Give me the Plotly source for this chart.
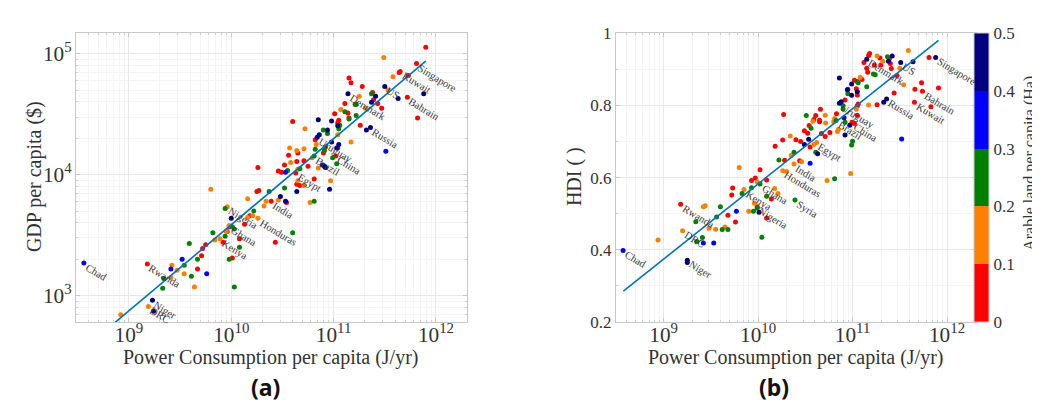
import numpy as np
import plotly.graph_objects as go

# ---------------- data ----------------
# Panel (a): log10 power consumption per capita (J/yr) vs log10 GDP per capita ($), by arable-land class
a_red_power = [11.90, 11.81, 11.65, 11.64, 11.73, 11.72, 11.82, 11.15, 11.17, 11.28,
               11.38, 11.39, 11.43, 11.47, 11.11, 11.21, 11.14, 11.01, 10.60, 11.05,
               11.04, 11.15, 11.26, 10.82, 10.92, 10.90, 11.04, 10.56, 10.65, 11.02,
               10.71, 10.52, 10.64, 10.26, 10.75, 10.46, 10.49, 10.63, 10.81, 10.64,
               10.67, 10.25, 10.27, 10.54, 10.39, 10.18, 10.13, 9.98, 9.96, 9.92,
               9.75, 9.72, 10.08, 10.43, 9.71, 10.01, 9.18, 9.67]
a_red_gdp = [5.055, 4.92, 4.855, 4.845, 4.82, 4.64, 4.47, 4.80, 4.76, 4.73,
             4.68, 4.62, 4.59, 4.55, 4.59, 4.58, 4.51, 4.505, 4.44, 4.45,
             4.43, 4.47, 4.41, 4.29, 4.23, 4.18, 4.22, 4.16, 4.18, 4.155,
             4.115, 4.08, 4.11, 4.06, 4.07, 4.03, 4.02, 4.015, 3.965, 3.92,
             3.91, 3.86, 3.87, 3.77, 3.78, 3.66, 3.59, 3.57, 3.53, 3.44,
             3.42, 3.39, 3.47, 3.44, 3.33, 3.31, 3.26, 3.22]

a_orange_power = [11.49, 11.58, 11.53, 11.25, 11.07, 11.31, 10.72, 11.04, 10.83, 11.17,
                  10.57, 10.64, 10.71, 10.79, 10.58, 10.65, 10.85, 10.65, 10.71, 10.97,
                  9.80, 10.16, 10.46, 10.77, 10.34, 10.32, 9.96, 10.21, 10.16, 10.26,
                  9.98, 9.95, 9.84, 9.89, 9.42, 9.47, 9.54, 9.41, 9.64, 9.19, 8.92]
a_orange_gdp = [4.97, 4.81, 4.70, 4.65, 4.54, 4.55, 4.38, 4.33, 4.25, 4.27,
                4.22, 4.20, 4.215, 4.14, 4.10, 4.045, 4.055, 3.95, 3.91, 3.95,
                3.88, 3.80, 3.79, 3.77, 3.78, 3.74, 3.735, 3.66, 3.645, 3.64,
                3.58, 3.53, 3.46, 3.47, 3.25, 3.21, 3.18, 3.15, 3.07, 2.91, 2.84]

a_green_power = [11.37, 11.22, 11.11, 11.22, 11.15, 11.06, 11.05, 10.90, 10.94, 10.82,
                 10.91, 10.81, 10.99, 11.03, 10.67, 10.55, 10.52, 10.37, 10.81, 9.94,
                 10.22, 10.01, 10.03, 9.82, 9.94, 10.60, 9.59, 10.08, 9.67, 9.98,
                 9.54, 9.61, 9.34, 10.03, 9.33]
a_green_gdp = [4.67, 4.58, 4.52, 4.49, 4.46, 4.41, 4.38, 4.37, 4.34, 4.21,
               4.20, 4.155, 4.14, 4.09, 4.05, 4.035, 3.89, 3.86, 3.78, 3.72,
               3.70, 3.57, 3.55, 3.52, 3.49, 3.52, 3.43, 3.40, 3.30, 3.30,
               3.25, 3.16, 3.14, 3.07, 3.06]

a_blue_power = [10.89, 11.51, 10.53, 9.52, 8.56, 9.41, 9.76]
a_blue_gdp = [4.08, 4.195, 4.02, 3.30, 3.27, 3.22, 3.18]

a_navy_power = [11.50, 11.88, 11.63, 11.14, 11.41, 11.37, 10.85, 10.98, 11.04, 10.94,
                10.86, 11.32, 11.36, 10.84, 10.98, 11.05, 11.03, 10.91, 10.92, 10.96,
                10.64, 10.48, 10.53, 10.00, 9.23, 9.24]
a_navy_gdp = [4.73, 4.67, 4.63, 4.67, 4.65, 4.60, 4.455, 4.445, 4.405, 4.37,
              4.33, 4.37, 4.39, 4.31, 4.27, 4.25, 4.22, 4.07, 4.06, 3.88,
              3.86, 3.82, 3.78, 3.64, 2.96, 2.87]

a_fit_power = [8.56, 11.90]
a_fit_gdp = [2.56, 4.94]

a_countries = ["Singapore", "Kuwait", "US", "Denmark", "Bahrain", "Russia", "Uruguay", "China",
               "Brazil", "Egypt", "India", "Nigeria", "Honduras", "Ghana", "Kenya", "Chad",
               "Rwanda", "Niger", "DRC"]
a_country_power = [11.81, 11.65, 11.50, 11.14, 11.72, 11.36, 10.84, 11.02,
                   10.81, 10.63, 10.39, 9.96, 10.26, 9.98, 9.89, 8.56,
                   9.18, 9.23, 9.19]
a_country_gdp = [4.92, 4.855, 4.73, 4.67, 4.64, 4.39, 4.31, 4.155,
                 4.155, 4.015, 3.78, 3.735, 3.64, 3.58, 3.47, 3.27,
                 3.26, 2.96, 2.91]

# Panel (b): log10 power consumption per capita (J/yr) vs HDI, by arable-land class
b_red_power = [11.18, 11.17, 11.12, 11.29, 11.39, 11.23, 11.30, 11.40, 11.81, 11.41,
               11.15, 11.16, 11.47, 11.10, 11.02, 11.73, 11.91, 11.66, 11.74, 10.95,
               11.04, 11.05, 11.44, 11.26, 11.655, 11.83, 10.92, 11.05, 11.06, 10.83,
               10.66, 10.27, 10.61, 10.59, 10.65, 10.65, 11.05, 10.995, 11.02, 10.49,
               10.54, 10.525, 10.67, 10.71, 10.76, 10.26, 10.40, 10.45, 10.55, 10.18,
               10.28, 10.44, 10.02, 9.97, 9.93, 10.09, 9.73, 9.72, 10.14, 9.99,
               9.18, 9.68, 10.09, 9.76]
b_red_hdi = [0.944, 0.938, 0.919, 0.931, 0.929, 0.912, 0.912, 0.916, 0.933, 0.902,
             0.903, 0.892, 0.883, 0.872, 0.870, 0.863, 0.848, 0.845, 0.839, 0.845,
             0.846, 0.829, 0.834, 0.802, 0.809, 0.796, 0.815, 0.799, 0.804, 0.777,
             0.789, 0.775, 0.772, 0.761, 0.759, 0.755, 0.773, 0.753, 0.750, 0.730,
             0.744, 0.723, 0.722, 0.714, 0.725, 0.704, 0.705, 0.700, 0.685, 0.687,
             0.648, 0.647, 0.622, 0.599, 0.592, 0.593, 0.571, 0.552, 0.541, 0.519,
             0.526, 0.496, 0.488, 0.477]

b_orange_power = [11.59, 11.26, 11.32, 11.50, 11.08, 11.54, 11.17, 11.04, 10.71, 10.58,
                  10.81, 10.80, 10.715, 10.84, 10.85, 10.34, 10.59, 10.62, 10.35, 10.46,
                  10.38, 10.26, 10.30, 9.80, 10.98, 10.73, 9.99, 10.175, 10.21, 9.85,
                  9.96, 9.90, 9.42, 9.44, 9.48, 9.55, 9.65, 9.20, 8.94]
b_orange_hdi = [0.952, 0.937, 0.922, 0.903, 0.878, 0.857, 0.801, 0.789, 0.773, 0.756,
                0.764, 0.755, 0.751, 0.728, 0.733, 0.715, 0.692, 0.697, 0.661, 0.644,
                0.638, 0.619, 0.617, 0.628, 0.611, 0.592, 0.588, 0.570, 0.556, 0.567,
                0.529, 0.507, 0.519, 0.522, 0.460, 0.457, 0.463, 0.453, 0.427]

b_green_power = [11.37, 11.22, 11.24, 11.05, 11.06, 11.15, 10.95, 10.90, 10.90, 10.51,
                 10.825, 10.92, 10.56, 11.00, 10.99, 10.61, 10.22, 10.38, 10.81, 10.02,
                 9.83, 9.93, 10.09, 10.39, 9.99, 9.95, 9.60, 9.56, 9.34, 9.62,
                 9.68, 9.41, 9.35, 10.04]
b_green_hdi = [0.935, 0.887, 0.885, 0.866, 0.863, 0.852, 0.832, 0.799, 0.790, 0.772,
               0.758, 0.753, 0.737, 0.701, 0.690, 0.670, 0.649, 0.670, 0.597, 0.582,
               0.556, 0.572, 0.548, 0.538, 0.515, 0.507, 0.519, 0.491, 0.478, 0.456,
               0.456, 0.434, 0.423, 0.435]

b_blue_power = [10.91, 11.52, 10.55, 9.77, 9.42, 9.53, 8.57]
b_blue_hdi = [0.766, 0.707, 0.640, 0.507, 0.419, 0.419, 0.398]

b_navy_power = [11.15, 11.42, 11.38, 11.51, 11.64, 11.88, 10.86, 10.99, 10.945, 11.05,
                10.99, 11.36, 11.33, 10.86, 10.88, 10.97, 10.92, 10.535, 10.49, 10.63,
                10.01, 9.25, 9.25]
b_navy_hdi = [0.928, 0.937, 0.922, 0.919, 0.921, 0.933, 0.876, 0.859, 0.843, 0.838,
              0.828, 0.818, 0.809, 0.806, 0.810, 0.745, 0.718, 0.706, 0.692, 0.666,
              0.504, 0.371, 0.365]

b_fit_power = [8.573, 11.91]
b_fit_hdi = [0.2855, 0.980]

b_countries = ["Singapore", "US", "Denmark", "Bahrain", "Russia", "Kuwait", "Uruguay", "China",
               "Brazil", "Egypt", "India", "Honduras", "Ghana", "Kenya", "Syria", "Nigeria",
               "Rwanda", "DRC", "Chad", "Niger"]
b_country_power = [11.88, 11.51, 11.15, 11.74, 11.36, 11.655, 10.86, 10.995,
                   10.825, 10.62, 10.38, 10.26, 10.02, 9.85, 10.39, 9.99,
                   9.18, 9.20, 8.57, 9.25]
b_country_hdi = [0.933, 0.919, 0.928, 0.839, 0.818, 0.809, 0.806, 0.753,
                 0.758, 0.697, 0.638, 0.619, 0.582, 0.567, 0.538, 0.519,
                 0.526, 0.453, 0.398, 0.371]

land_bins = [0.0, 0.1, 0.2, 0.3, 0.4, 0.5]
land_colors = ["#FF0000", "#FF8000", "#008000", "#0000FF", "#000080"]
land_ticks = ["0", "0.1", "0.2", "0.3", "0.4", "0.5"]

# ---------------- figure ----------------
SERIF = "Liberation Serif"
TXT = "#333333"
W, H = 1040, 405

fig = go.Figure()

a_sets = [(a_red_power, a_red_gdp), (a_orange_power, a_orange_gdp), (a_green_power, a_green_gdp),
          (a_blue_power, a_blue_gdp), (a_navy_power, a_navy_gdp)]
b_sets = [(b_red_power, b_red_hdi), (b_orange_power, b_orange_hdi), (b_green_power, b_green_hdi),
          (b_blue_power, b_blue_hdi), (b_navy_power, b_navy_hdi)]

for (px, py), col in zip(a_sets, land_colors):
    fig.add_trace(go.Scatter(x=np.power(10.0, px), y=np.power(10.0, py), mode="markers",
                             marker=dict(size=5, color=col, line=dict(width=0)),
                             xaxis="x", yaxis="y", showlegend=False))
fig.add_trace(go.Scatter(x=np.power(10.0, a_fit_power), y=np.power(10.0, a_fit_gdp), mode="lines",
                         line=dict(color="#0072BD", width=1.6), xaxis="x", yaxis="y",
                         showlegend=False))

for (px, py), col in zip(b_sets, land_colors):
    fig.add_trace(go.Scatter(x=np.power(10.0, px), y=py, mode="markers",
                             marker=dict(size=5, color=col, line=dict(width=0)),
                             xaxis="x2", yaxis="y2", showlegend=False))
fig.add_trace(go.Scatter(x=np.power(10.0, b_fit_power), y=b_fit_hdi, mode="lines",
                         line=dict(color="#0072BD", width=1.6), xaxis="x2", yaxis="y2",
                         showlegend=False))

# discrete colour scale for the colour bar
cscale = []
n = len(land_colors)
for i, c in enumerate(land_colors):
    cscale.append([i / n, c])
    cscale.append([(i + 1) / n, c])

ydom = [1 - 320 / H, 1 - 17 / H]
fig.add_trace(go.Scatter(x=[None], y=[None], mode="markers", xaxis="x2", yaxis="y2",
                         showlegend=False,
                         marker=dict(color=[land_bins[0]], cmin=land_bins[0], cmax=land_bins[-1],
                                     colorscale=cscale, showscale=True,
                                     colorbar=dict(x=966 / W, xanchor="left", thickness=15,
                                                   y=(ydom[0] + ydom[1]) / 2, yanchor="middle",
                                                   len=ydom[1] - ydom[0], lenmode="fraction",
                                                   outlinewidth=1, outlinecolor="#c8c8c8",
                                                   tickvals=land_bins, ticktext=land_ticks,
                                                   ticks="", ypad=0, xpad=0,
                                                   tickfont=dict(family=SERIF, size=17, color=TXT)))))

axis_common = dict(showline=True, linecolor="#c8c8c8", linewidth=1, mirror="ticks",
                   ticks="inside", ticklen=4, tickcolor="#c8c8c8",
                   showgrid=True, gridcolor="#e8e8e8", zeroline=False,
                   tickfont=dict(family=SERIF, size=17, color=TXT))
minor_log = dict(dtick="D1", showgrid=True, gridcolor="#f4f4f4", ticks="inside",
                 ticklen=2, tickcolor="#d0d0d0")

fig.update_layout(
    width=W, height=H, margin=dict(l=0, r=0, t=0, b=0),
    paper_bgcolor="white", plot_bgcolor="white",
    xaxis=dict(type="log", domain=[68 / W, 459 / W], range=[8.483, 12.303], anchor="y",
               dtick=1, exponentformat="power", minor=minor_log, ticklabelstandoff=-6,
               **axis_common),
    yaxis=dict(type="log", domain=ydom, range=[2.781, 5.171], anchor="x",
               dtick=1, exponentformat="power", minor=minor_log, **axis_common),
    xaxis2=dict(type="log", domain=[608 / W, 968 / W], range=[8.495, 12.307], anchor="y2",
                dtick=1, exponentformat="power", minor=minor_log, ticklabelstandoff=-6,
                **axis_common),
    yaxis2=dict(domain=ydom, range=[0.2, 1.0], anchor="x2", dtick=0.2,
                minor=dict(dtick=0.1, showgrid=True, gridcolor="#f4f4f4", ticks="inside",
                           ticklen=2, tickcolor="#d0d0d0"), **axis_common),
)

ann = []
# country labels
for name, px, py in zip(a_countries, a_country_power, a_country_gdp):
    ann.append(dict(x=px, y=py, xref="x", yref="y", text=name, showarrow=False, textangle=31,
                    xanchor="left", yanchor="top", xshift=-3, yshift=4,
                    font=dict(family=SERIF, size=10.5, color="#3a3a3a")))
for name, px, py in zip(b_countries, b_country_power, b_country_hdi):
    ann.append(dict(x=px, y=py, xref="x2", yref="y2", text=name, showarrow=False, textangle=31,
                    xanchor="left", yanchor="top", xshift=-3, yshift=4,
                    font=dict(family=SERIF, size=10.5, color="#3a3a3a")))

title_font = dict(family=SERIF, size=20, color=TXT)
ann += [
    dict(x=263 / W, y=1 - 357 / H, xref="paper", yref="paper", text="Power Consumption per capita (J/yr)",
         showarrow=False, xanchor="center", yanchor="middle", font=title_font),
    dict(x=788 / W, y=1 - 357 / H, xref="paper", yref="paper", text="Power Consumption per capita (J/yr)",
         showarrow=False, xanchor="center", yanchor="middle", font=title_font),
    dict(x=26 / W, y=1 - 168 / H, xref="paper", yref="paper", text="GDP per capita ($)",
         showarrow=False, xanchor="center", yanchor="middle", textangle=-90, font=title_font),
    dict(x=566 / W, y=1 - 168 / H, xref="paper", yref="paper", text="HDI ( )",
         showarrow=False, xanchor="center", yanchor="middle", textangle=-90, font=title_font),
    dict(x=1022 / W, y=1 - 154 / H, xref="paper", yref="paper", text="Arable land per capita (Ha)",
         showarrow=False, xanchor="center", yanchor="middle", textangle=-90,
         font=dict(family=SERIF, size=16, color=TXT)),
    dict(x=257 / W, y=1 - 388 / H, xref="paper", yref="paper", text="<b>(a)</b>",
         showarrow=False, xanchor="center", yanchor="middle",
         font=dict(family="Noto Sans", size=23, color="#111")),
    dict(x=766 / W, y=1 - 388 / H, xref="paper", yref="paper", text="<b>(b)</b>",
         showarrow=False, xanchor="center", yanchor="middle",
         font=dict(family="Noto Sans", size=23, color="#111")),
]
fig.update_layout(annotations=ann)

fig.write_html("out.html")
